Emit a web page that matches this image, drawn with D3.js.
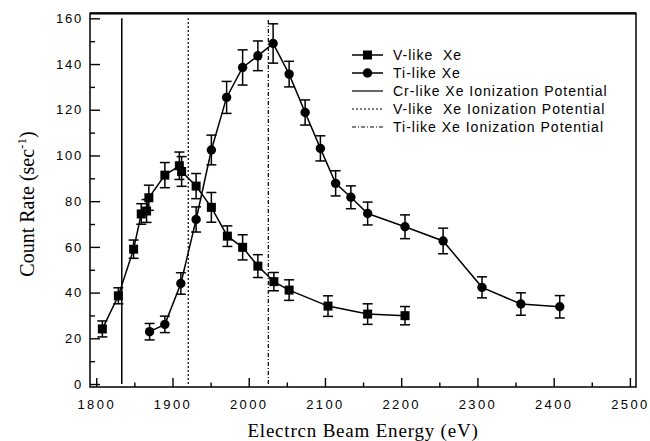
<!DOCTYPE html>
<html><head><meta charset="utf-8">
<script src="https://cdn.jsdelivr.net/npm/d3@7"></script>
<style>body{margin:0;background:#fff;} svg{display:block;}</style>
</head><body>
<svg id="c" width="650" height="441"></svg>
<script>
// Data
const vEnergy = [1808, 1829, 1849, 1859, 1866, 1869, 1890, 1909, 1912, 1931, 1951, 1972, 1992, 2012, 2033, 2053, 2104, 2156, 2205];
const vRate   = [24.1, 38.6, 59.0, 74.4, 75.7, 81.5, 91.4, 95.5, 93.0, 86.6, 77.3, 64.7, 59.8, 51.6, 44.8, 41.1, 34.1, 30.6, 29.9];
const vErr    = [3.5, 3.5, 4.0, 4.5, 5.0, 5.5, 5.5, 6.0, 6.5, 5.5, 6.5, 4.5, 5.5, 5.0, 4.0, 4.5, 4.5, 4.5, 4.0];
const tiEnergy = [1870, 1890, 1911, 1931, 1951, 1971, 1992, 2012, 2032, 2053, 2074, 2094, 2114, 2134, 2156, 2205, 2255, 2306, 2357, 2408];
const tiRate   = [22.9, 26.1, 44.0, 72.0, 102.4, 125.4, 138.5, 143.6, 149.0, 135.6, 118.8, 103.1, 87.8, 81.7, 74.6, 68.8, 62.6, 42.3, 35.0, 33.8];
const tiErr    = [3.6, 3.6, 4.7, 5.5, 6.5, 7.0, 7.7, 6.5, 8.6, 5.6, 5.5, 5.5, 5.5, 5.0, 5.0, 5.2, 5.6, 4.6, 4.9, 4.9];
const ipEnergy = [1833.5, 1920.7, 2025.7];
const ipLabels = ["Cr-like Xe Ionization Potential", "V-like  Xe Ionization Potential", "Ti-like Xe Ionization Potential"];
const ipDash = [null, "2,2", "4,2,1,2"];
const xTicks = [1800, 1900, 2000, 2100, 2200, 2300, 2400, 2500];
const yTicks = [0, 20, 40, 60, 80, 100, 120, 140, 160];
const seriesLabels = ["V-like  Xe", "Ti-like Xe"];

const svg = d3.select("#c");
const x = d3.scaleLinear().domain([1791.8, 2508]).range([90, 636]);
const y = d3.scaleLinear().domain([-1.3, 162.2]).range([387, 13.3]);

const g = svg.append("g");
// frame
g.append("rect").attr("x", 90).attr("y", 13.3).attr("width", 546).attr("height", 373.7)
  .attr("fill", "none").attr("stroke", "#000").attr("stroke-width", 1.5);
g.append("line").attr("x1", 90).attr("x2", 636).attr("y1", 13.3).attr("y2", 13.3).attr("stroke", "#000").attr("stroke-width", 2.2);

const tickFont = "Liberation Sans, Arial, sans-serif";
// x axis ticks (inward)
const xMinor = d3.range(1850, 2500, 100);
const xAx = d3.axisBottom(x).tickValues(xTicks).tickSize(-9).tickPadding(13).tickFormat(d3.format("d"));
const xg = g.append("g").attr("transform", "translate(0,387)").call(xAx);
xg.select(".domain").remove();
xg.selectAll("line").attr("stroke-width", 1.4);
xg.selectAll("text").attr("font-family", tickFont).attr("font-size", 13).attr("letter-spacing", 2.4).attr("fill", "#000");
const xAxMinor = d3.axisBottom(x).tickValues(xMinor).tickSize(-4.5).tickFormat("");
const xgm = g.append("g").attr("transform", "translate(0,387)").call(xAxMinor);
xgm.select(".domain").remove();
xgm.selectAll("line").attr("stroke-width", 1.4);

// y axis ticks (inward)
const yMinor = d3.range(10, 160, 20);
const yAx = d3.axisLeft(y).tickValues(yTicks).tickSize(-10).tickPadding(7);
const yg = g.append("g").attr("transform", "translate(90,0)").call(yAx);
yg.select(".domain").remove();
yg.selectAll("line").attr("stroke-width", 1.4);
yg.selectAll("text").attr("font-family", tickFont).attr("font-size", 13).attr("letter-spacing", 1.8).attr("fill", "#000");
const yAxMinor = d3.axisLeft(y).tickValues(yMinor).tickSize(-5).tickFormat("");
const ygm = g.append("g").attr("transform", "translate(90,0)").call(yAxMinor);
ygm.select(".domain").remove();
ygm.selectAll("line").attr("stroke-width", 1.4);

// ionization potential lines
ipEnergy.forEach((e, i) => {
  g.append("line").attr("x1", x(e)).attr("x2", x(e)).attr("y1", y(0)).attr("y2", y(160))
    .attr("stroke", "#000").attr("stroke-width", i === 0 ? 1.5 : 1.2)
    .attr("stroke-dasharray", ipDash[i]);
});

function drawSeries(E, R, Er, shape) {
  const pts = E.map((e, i) => ({e, r: R[i], er: Er[i]}));
  const line = d3.line().x(d => x(d.e)).y(d => y(d.r));
  g.append("path").datum(pts).attr("d", line).attr("fill", "none").attr("stroke", "#000").attr("stroke-width", 1.5);
  const eb = g.append("g").attr("stroke", "#000").attr("stroke-width", 1.5);
  pts.forEach(d => {
    const cx = x(d.e), y1 = y(d.r - d.er), y2 = y(d.r + d.er);
    eb.append("line").attr("x1", cx).attr("x2", cx).attr("y1", y1).attr("y2", y2);
    eb.append("line").attr("x1", cx - 5).attr("x2", cx + 5).attr("y1", y1).attr("y2", y1);
    eb.append("line").attr("x1", cx - 5).attr("x2", cx + 5).attr("y1", y2).attr("y2", y2);
  });
  pts.forEach(d => {
    if (shape === "square") {
      g.append("rect").attr("x", x(d.e) - 4.5).attr("y", y(d.r) - 4.5).attr("width", 9).attr("height", 9).attr("fill", "#000");
    } else {
      g.append("circle").attr("cx", x(d.e)).attr("cy", y(d.r)).attr("r", 4.7).attr("fill", "#000");
    }
  });
}
drawSeries(vEnergy, vRate, vErr, "square");
drawSeries(tiEnergy, tiRate, tiErr, "circle");

// legend
const lx1 = 352, lx2 = 383, tx = 393;
const rows = [55, 73, 91, 109, 127];
const font = "Liberation Sans, Arial, sans-serif";
const lg = g.append("g");
seriesLabels.forEach((s, i) => {
  lg.append("line").attr("x1", lx1).attr("x2", lx2).attr("y1", rows[i]).attr("y2", rows[i]).attr("stroke", "#000").attr("stroke-width", 1.5);
  if (i === 0) lg.append("rect").attr("x", (lx1 + lx2) / 2 - 4.5).attr("y", rows[i] - 4.5).attr("width", 9).attr("height", 9);
  else lg.append("circle").attr("cx", (lx1 + lx2) / 2).attr("cy", rows[i]).attr("r", 4.7);
  lg.append("text").attr("x", tx).attr("y", rows[i]).attr("dy", "0.35em").attr("font-family", font).attr("font-size", 14)
    .attr("letter-spacing", 1.0).style("white-space", "pre").text(s);
});
ipLabels.forEach((s, i) => {
  const ry = rows[i + 2];
  lg.append("line").attr("x1", lx1).attr("x2", lx2).attr("y1", ry).attr("y2", ry).attr("stroke", "#000")
    .attr("stroke-width", 1.2).attr("stroke-dasharray", ipDash[i]);
  lg.append("text").attr("x", tx).attr("y", ry).attr("dy", "0.35em").attr("font-family", font).attr("font-size", 14)
    .attr("letter-spacing", 1.0).style("white-space", "pre").text(s);
});

// axis titles
svg.append("text").attr("x", 363).attr("y", 437).attr("text-anchor", "middle")
  .attr("font-family", "Liberation Serif, Times New Roman, serif").attr("font-size", 19).attr("letter-spacing", 0.8)
  .text("Electrcn Beam Energy (eV)");
const yt = svg.append("text").attr("transform", "translate(34,204) rotate(-90)").attr("text-anchor", "middle")
  .attr("font-family", "Liberation Serif, Times New Roman, serif").attr("font-size", 20);
yt.append("tspan").text("Count Rate (sec");
yt.append("tspan").attr("dy", -8).attr("font-size", 13).text("-1");
yt.append("tspan").attr("dy", 8).text(")");
</script>
</body></html>
